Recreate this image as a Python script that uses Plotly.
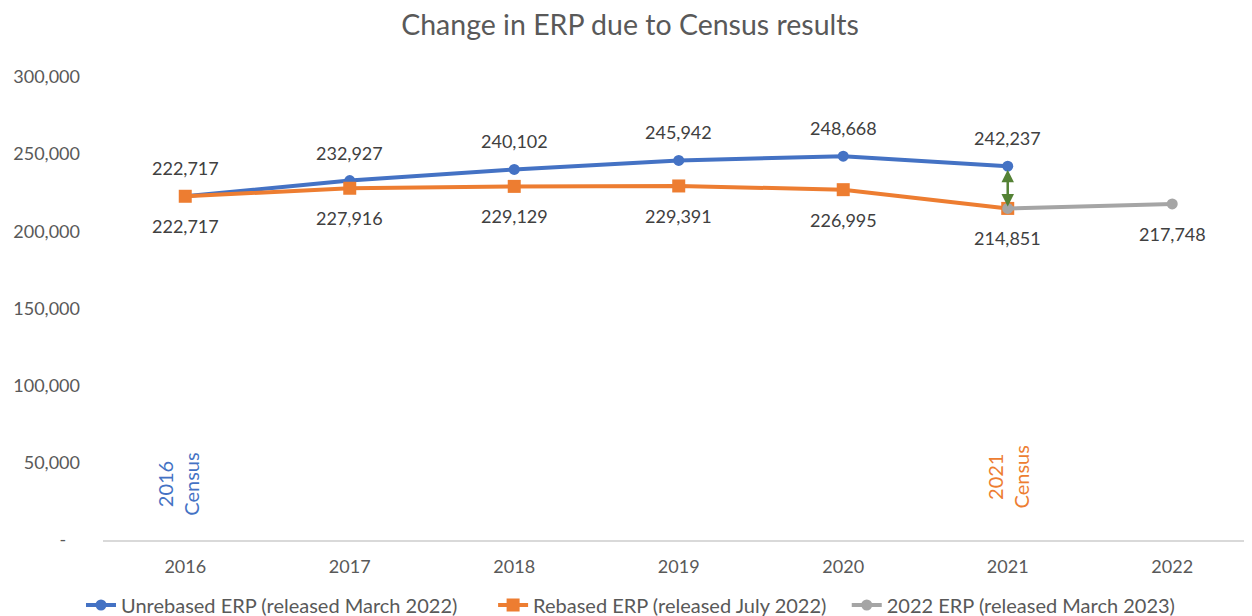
import plotly.graph_objects as go

years = ["2016", "2017", "2018", "2019", "2020", "2021", "2022"]
unrebased = [222717, 232927, 240102, 245942, 248668, 242237]
rebased = [222717, 227916, 229129, 229391, 226995, 214851]
erp2022_years = ["2021", "2022"]
erp2022 = [214851, 217748]
yticks = [0, 50000, 100000, 150000, 200000, 250000, 300000]
ytick_text = ["-\u00a0\u00a0\u00a0", "50,000", "100,000", "150,000", "200,000", "250,000", "300,000"]
series_names = ["Unrebased ERP (released March 2022)",
                "Rebased ERP (released July 2022)",
                "2022 ERP (released March 2023)"]
census_notes = [("2016", "2016<br>Census"), ("2021", "2021<br>Census")]

BLUE = "#4472C4"
ORANGE = "#ED7D31"
GREY = "#A5A5A5"
GREEN = "#548235"
TXT = "#404040"
AX = "#595959"
FONT = "Lato"
NB = "\u00a0"

W, H = 1244, 608

fig = go.Figure()
fig.add_trace(go.Scatter(x=years[:6], y=unrebased, mode="lines+markers",
                         name=series_names[0] + NB * 6,
                         line=dict(color=BLUE, width=4),
                         marker=dict(symbol="circle", size=11, color=BLUE)))
fig.add_trace(go.Scatter(x=years[:6], y=rebased, mode="lines+markers",
                         name=series_names[1] + NB * 3,
                         line=dict(color=ORANGE, width=4),
                         marker=dict(symbol="square", size=13, color=ORANGE)))
fig.add_trace(go.Scatter(x=erp2022_years, y=erp2022, mode="lines+markers",
                         name=series_names[2],
                         line=dict(color=GREY, width=4),
                         marker=dict(symbol="circle", size=11, color=GREY)))

def idx(y):
    return years.index(y)

anns = []
for x, v in zip(years[:6], unrebased):
    anns.append(dict(x=idx(x), y=v, xref="x", yref="y", text=f"{v:,}",
                     showarrow=False, yshift=28,
                     font=dict(size=18, color=TXT, family=FONT)))
for x, v in zip(years[:6], rebased):
    anns.append(dict(x=idx(x), y=v, xref="x", yref="y", text=f"{v:,}",
                     showarrow=False, yshift=-30,
                     font=dict(size=18, color=TXT, family=FONT)))
anns.append(dict(x=idx(erp2022_years[1]), y=erp2022[1], xref="x", yref="y",
                 text=f"{erp2022[1]:,}", showarrow=False, yshift=-30,
                 font=dict(size=18, color=TXT, family=FONT)))
# green double arrow showing the change at 2021
anns.append(dict(x=idx("2021"), y=rebased[5], ax=idx("2021"), ay=unrebased[5],
                 xref="x", yref="y", axref="x", ayref="y", text="",
                 showarrow=True, arrowhead=2, arrowside="end+start",
                 arrowsize=1.0, arrowwidth=2.5, arrowcolor=GREEN,
                 standoff=2, startstandoff=2))
# census labels
anns.append(dict(x=idx(census_notes[0][0]), y=36000, xref="x", yref="y",
                 text=census_notes[0][1], showarrow=False,
                 textangle=-90, xshift=-7,
                 font=dict(size=20, color=BLUE, family=FONT)))
anns.append(dict(x=idx(census_notes[1][0]), y=41000, xref="x", yref="y",
                 text=census_notes[1][1], showarrow=False,
                 textangle=-90, xshift=0,
                 font=dict(size=20, color=ORANGE, family=FONT)))

fig.update_layout(
    width=W, height=H,
    margin=dict(l=95, r=0, t=69, b=76),
    paper_bgcolor="white", plot_bgcolor="white",
    title=dict(text="Change in ERP due to Census results", x=0.5, xref="container",
               y=1 - 17 / H, yref="container", yanchor="middle", xanchor="center",
               font=dict(size=28.5, color=AX, family=FONT)),
    font=dict(family=FONT, color=AX),
    showlegend=True,
    legend=dict(orientation="h", xref="container", yref="container",
                x=73 / W, xanchor="left", y=1 - 597 / H, yanchor="middle",
                font=dict(size=20, color=AX, family=FONT),
                tracegroupgap=0),
    annotations=anns,
    xaxis=dict(type="category", categoryorder="array", categoryarray=years,
               range=[-0.5, 6.485], showgrid=False, showline=True,
               linecolor="#D9D9D9", linewidth=1.5, ticks="",
               ticklabelstandoff=10,
               tickfont=dict(size=18, color=AX, family=FONT)),
    yaxis=dict(range=[0, 300000], tickvals=yticks, ticktext=ytick_text,
               showgrid=False, showline=False, zeroline=False, ticks="",
               ticklabelstandoff=22,
               tickfont=dict(size=18, color=AX, family=FONT)),
)

fig.write_html("out.html")
